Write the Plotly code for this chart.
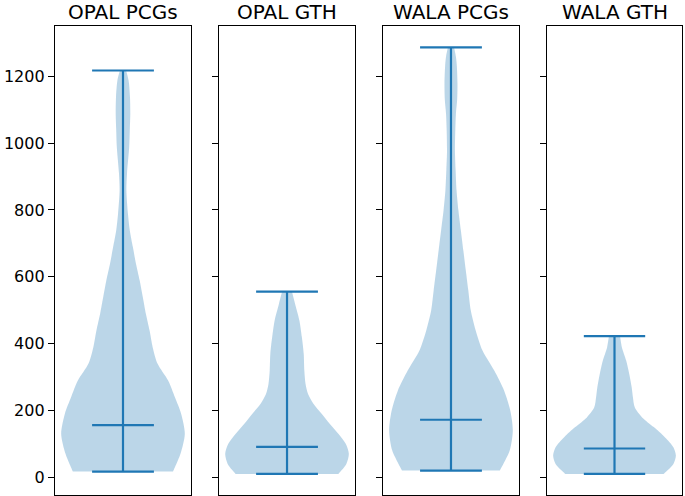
import plotly.graph_objects as go

titles = ["OPAL PCGs", "OPAL GTH", "WALA PCGs", "WALA GTH"]

# profile levels (value axis) and relative half-widths (1 = widest)
opal_pcg_y = [18, 71, 131, 191, 240, 290, 340, 390, 440, 490, 540, 589, 639, 689, 739, 789, 859, 909, 988, 1040, 1088, 1138, 1188, 1217]
opal_pcg_w = [0.81, 0.93, 1.0, 0.94, 0.84, 0.73, 0.56, 0.48, 0.43, 0.37, 0.32, 0.27, 0.21, 0.16, 0.11, 0.08, 0.055, 0.065, 0.10, 0.11, 0.118, 0.113, 0.09, 0.05]

opal_gth_y = [11, 41, 71, 101, 131, 161, 191, 220, 250, 280, 320, 370, 420, 470, 520, 556]
opal_gth_w = [0.83, 0.96, 1.0, 0.95, 0.83, 0.69, 0.56, 0.43, 0.34, 0.30, 0.28, 0.27, 0.24, 0.20, 0.13, 0.08]

wala_pcg_y = [21, 81, 141, 200, 260, 320, 380, 440, 500, 560, 619, 679, 739, 799, 859, 919, 978, 1040, 1088, 1130, 1178, 1230, 1258, 1286]
wala_pcg_w = [0.79, 0.95, 1.0, 0.96, 0.86, 0.70, 0.51, 0.40, 0.32, 0.28, 0.24, 0.20, 0.16, 0.12, 0.09, 0.075, 0.064, 0.07, 0.08, 0.10, 0.105, 0.095, 0.08, 0.05]

wala_gth_y = [11, 41, 66, 91, 121, 151, 180, 210, 240, 270, 310, 350, 390, 423]
wala_gth_w = [0.80, 0.96, 1.0, 0.96, 0.82, 0.64, 0.45, 0.33, 0.30, 0.28, 0.24, 0.19, 0.12, 0.09]

mins = [18, 11, 21, 11]
medians = [157, 92, 173, 87]
maxs = [1217, 556, 1286, 423]

tick_vals = [0, 200, 400, 600, 800, 1000, 1200]
tick_text = ["0", "200", "400", "600", "800", "1000", "1200"]

profiles = [(opal_pcg_y, opal_pcg_w), (opal_gth_y, opal_gth_w),
            (wala_pcg_y, wala_pcg_w), (wala_gth_y, wala_gth_w)]

C0 = "#1f77b4"
FILL = "rgba(31,119,180,0.3)"
HALF = 0.25
CAP = 0.125
FONT = "DejaVu Sans"

domains = [[0, 0.2169], [0.2616, 0.4785], [0.5231, 0.7400], [0.7847, 1.0]]

fig = go.Figure()
for i, ((ys, ws), t) in enumerate(zip(profiles, titles)):
    xa = "x" if i == 0 else f"x{i+1}"
    ya = "y" if i == 0 else f"y{i+1}"
    rx = [1 + HALF * w for w in ws]
    lx = [1 - HALF * w for w in ws]
    yl = list(ys)
    # duplicate the end points so the flat bottom/top edges keep sharp corners
    px = [rx[0]] + rx + [rx[-1], lx[-1]] + lx[::-1] + [lx[0], rx[0]]
    py = [yl[0]] + yl + [yl[-1], yl[-1]] + yl[::-1] + [yl[0], yl[0]]
    fig.add_trace(go.Scatter(
        x=px, y=py, fill="toself", fillcolor=FILL, mode="lines",
        line=dict(width=0, shape="spline", smoothing=0.8),
        xaxis=xa, yaxis=ya, showlegend=False, hoverinfo="skip"))
    # vertical min-max line
    fig.add_trace(go.Scatter(x=[1, 1], y=[mins[i], maxs[i]], mode="lines",
                             line=dict(color=C0, width=2.2), xaxis=xa, yaxis=ya,
                             showlegend=False))
    for v in (mins[i], medians[i], maxs[i]):
        fig.add_trace(go.Scatter(x=[1 - CAP, 1 + CAP], y=[v, v], mode="lines",
                                 line=dict(color=C0, width=2.2), xaxis=xa, yaxis=ya,
                                 showlegend=False))

layout = dict(
    width=685, height=496,
    margin=dict(l=55, r=3, t=26, b=1),
    paper_bgcolor="white", plot_bgcolor="white",
    font=dict(family=FONT, color="black", size=16),
    annotations=[],
)
for i in range(4):
    xk = "xaxis" if i == 0 else f"xaxis{i+1}"
    yk = "yaxis" if i == 0 else f"yaxis{i+1}"
    xa = "x" if i == 0 else f"x{i+1}"
    ya = "y" if i == 0 else f"y{i+1}"
    layout[xk] = dict(domain=domains[i], range=[0.725, 1.275], showgrid=False,
                      zeroline=False, showticklabels=False, ticks="",
                      showline=True, mirror=True, linecolor="black", linewidth=1.3,
                      anchor=ya)
    layout[yk] = dict(range=[-52, 1350], showgrid=False, zeroline=False,
                      tickvals=tick_vals, ticktext=tick_text,
                      showticklabels=(i == 0), ticks="outside", ticklen=6,
                      tickwidth=1.3, tickcolor="black",
                      showline=True, mirror=True, linecolor="black", linewidth=1.3,
                      anchor=xa, tickfont=dict(family=FONT, size=16, color="black"))
    layout["annotations"].append(dict(
        text=titles[i], x=(domains[i][0] + domains[i][1]) / 2, y=1,
        xref="paper", yref="paper", xanchor="center", yanchor="bottom",
        showarrow=False, yshift=0, font=dict(family=FONT, size=20, color="black")))

fig.update_layout(**layout)
fig.write_html("out.html", config={"displayModeBar": False},
               post_script="document.body.style.margin='0';document.body.style.overflow='hidden';")
